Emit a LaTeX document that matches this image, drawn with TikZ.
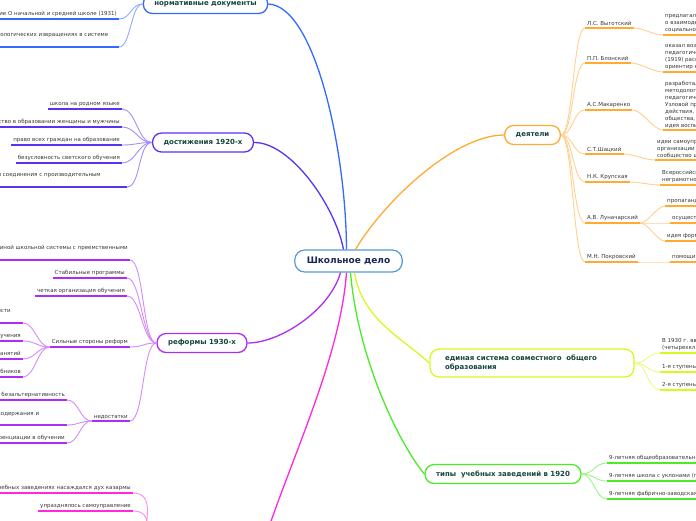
\documentclass[tikz,border=0pt]{standalone}
\usepackage{fontspec}
\setmainfont{DejaVu Sans}
\usepackage{xcolor}
\definecolor{hubblue}{RGB}{85,155,215}
\definecolor{hubink}{RGB}{25,40,85}
\definecolor{normblue}{RGB}{50,105,255}
\definecolor{achviolet}{RGB}{90,50,245}
\definecolor{refpurple}{RGB}{175,45,240}
\definecolor{barmagenta}{RGB}{255,40,220}
\definecolor{figorange}{RGB}{255,170,50}
\definecolor{unilime}{RGB}{215,250,30}
\definecolor{typgreen}{RGB}{75,235,40}
\definecolor{topicink}{RGB}{20,70,60}
\definecolor{leafink}{RGB}{55,55,55}
\usepackage{tikz}
\usetikzlibrary{positioning,calc}
\newcommand\leaffont{\fontsize{5.5}{7}\selectfont}

\begin{document}
\begin{tikzpicture}[x=1pt,y=-1pt,
  hub/.style={draw=hubblue,line width=1.2pt,fill=white,rounded corners=10pt,
    text=hubink,font=\fontsize{9}{11}\selectfont\bfseries,
    inner xsep=12pt,minimum height=22pt},
  topic/.style={draw=#1,line width=1.3pt,fill=white,rounded corners=9pt,
    text=topicink,font=\fontsize{7}{9}\selectfont\bfseries,
    inner xsep=11pt,minimum height=19pt},
  uline/.style={draw=#1,line width=2pt},
  leafL/.style={font=\leaffont,text=leafink,align=left,anchor=south east,
    inner xsep=2pt,inner ysep=2pt,
    append after command={(\tikzlastnode.south west) edge[uline=#1] (\tikzlastnode.south east)}},
  leafR/.style={leafL=#1,anchor=south west},
  trunk/.style={draw=#1,line width=1.3pt},
  link/.style={draw=#1!55,line width=0.9pt},
  sweep/.style={to path={.. controls +(#1,0) and +({-(#1)},0) .. (\tikztotarget)}},
]
\useasboundingbox (0,0) rectangle (696,520);

% центр
\node[hub] (hub) at (348.5,261) {Школьное дело};

% нормативные документы
\node[topic=normblue] (norm) at (205.5,4) {нормативные документы};
\node[leafL=normblue] (n1) at (119,19) {Постановление О начальной и средней школе (1931)};
\node[leafL=normblue,text width=180pt] (n2) at (119,47) {Постановление О педологических извращениях в системе\\Наркомпросов (1936)};

% достижения 1920-х
\node[topic=achviolet] (ach) at (203,142.5) {достижения 1920-х};
\node[leafL=achviolet] (a1) at (122,109) {школа на родном языке};
\node[leafL=achviolet] (a2) at (122,127) {равенство в образовании женщины и мужчины};
\node[leafL=achviolet] (a3) at (122,145) {право всех граждан на образование};
\node[leafL=achviolet] (a4) at (122,163) {безусловность светского обучения};
\node[leafL=achviolet,text width=190pt] (a5) at (127,187) {Трудовая школа: идея соединения с производительным\\трудом};

% реформы 1930-х
\node[topic=refpurple] (ref) at (202,343) {реформы 1930-х};
\node[leafL=refpurple] (r1) at (130,260) {Создание единой школьной системы с преемственными\\ступенями};
\node[leafL=refpurple] (r2) at (127,278) {Стабильные программы};
\node[leafL=refpurple] (r3) at (127,296) {четкая организация обучения};
\node[leafL=refpurple] (rs) at (130,347) {Сильные стороны реформ};
\node[leafL=refpurple,text width=95pt] (rs1) at (23,323) {повышение ответственности\\учителя};
\node[leafL=refpurple] (rs2) at (23,341) {предметная система обучения};
\node[leafL=refpurple] (rs3) at (23,359) {классно-урочная форма занятий};
\node[leafL=refpurple] (rs4) at (23,377) {выпуск стабильных учебников};
\node[leafL=refpurple] (rn) at (130,421) {недостатки};
\node[leafL=refpurple] (rn1) at (67,400) {безальтернативность};
\node[leafL=refpurple,text width=110pt] (rn2) at (67,425) {единообразие содержания и\\методики};
\node[leafL=refpurple] (rn3) at (67,443) {отсутствие дифференциации в обучении};

% ветка ниже края
\coordinate (barin) at (262,548);
\coordinate (barout) at (150,600);
\node[leafL=barmagenta] (b1) at (133,493) {в учебных заведениях насаждался дух казармы};
\node[leafL=barmagenta] (b2) at (133,511) {упразднялось самоуправление};

% деятели
\node[topic=figorange] (fig) at (532.5,135) {деятели};
\node[leafR=figorange] (f1) at (585,28) {Л.С. Выготский};
\node[leafR=figorange] (f2) at (585,63) {П.П. Блонский};
\node[leafR=figorange] (f3) at (585,110) {А.С.Макаренко};
\node[leafR=figorange] (f4) at (585,154) {С.Т.Шацкий};
\node[leafR=figorange] (f5) at (585,182) {Н.К. Крупская};
\node[leafR=figorange] (f6) at (585,223) {А.В. Луначарский};
\node[leafR=figorange] (f7) at (585,262) {М.Н. Покровский};
\node[leafR=figorange] (g1) at (663,35) {предлагал теорию\\о взаимодействии\\социальной среды};
\node[leafR=figorange] (g2) at (663,72) {оказал воздействие на\\педагогическую мысль\\(1919) рассматривал школу\\ориентир на труд};
\node[leafR=figorange] (g3) at (663,130) {разработал теорию и\\методологию воспитания\\педагогической системы\\Узловой проблемой\\действия, коллектива\\общества, личности\\идея воспитания в коллективе};
\node[leafR=figorange] (g4) at (655,160) {идеи самоуправления,\\организации детского труда\\сообщество школы};
\node[leafR=figorange] (g5) at (660,185) {Всероссийская кампания\\неграмотности};
\node[leafR=figorange] (g6a) at (665,206) {пропаганда новой школы};
\node[leafR=figorange] (g6b) at (670,223) {осуществление реформ};
\node[leafR=figorange] (g6c) at (665,241) {идея формирования личности};
\node[leafR=figorange] (g7) at (670,262) {помощи в создании программ};

% единая система
\node[topic=unilime,text width=174pt,align=left,inner xsep=15pt,minimum height=28pt] (uni) at (532,363) {единая система совместного\ \ общего\\образования};
\node[leafR=unilime] (u1) at (660,353) {В 1930 г. введено всеобщее\\(четырехклассное) обучение};
\node[leafR=unilime] (u2) at (660,372) {1-я ступень (5 лет)};
\node[leafR=unilime] (u3) at (660,390) {2-я ступень (4 года)};

% типы учебных заведений
\node[topic=typgreen] (typ) at (503,474) {типы\ \ учебных заведений в 1920};
\node[leafR=typgreen] (t1) at (607,463) {9-летняя общеобразовательная школа};
\node[leafR=typgreen] (t2) at (607,481) {9-летняя школа с уклонами (профессиональными)};
\node[leafR=typgreen] (t3) at (607,499) {9-летняя фабрично-заводская школа};

% стволы от центра
\draw[trunk=normblue] ([xshift=-2pt]hub.north) .. controls (346,150) and (315,6) .. (norm.east);
\draw[trunk=achviolet] ([xshift=-5pt]hub.north) .. controls (335,205) and (290,142) .. (ach.east);
\draw[trunk=figorange] ([xshift=7pt]hub.north) .. controls (385,200) and (455,135) .. (fig.west);
\draw[trunk=refpurple] ([xshift=-8pt]hub.south) .. controls (330,310) and (280,343) .. (ref.east);
\draw[trunk=barmagenta] ([xshift=-2pt]hub.south) .. controls (340,360) and (290,460) .. (barin);
\draw[trunk=typgreen] ([xshift=2pt]hub.south) .. controls (358,360) and (400,445) .. (typ.west);
\draw[trunk=unilime] ([xshift=6pt]hub.south) .. controls (362,320) and (405,340) .. (uni.west);

% связи слева
\draw[link=normblue,sweep=-12] (norm.west) to (n1.south east);
\draw[link=normblue,sweep=-12] (norm.west) to (n2.south east);
\foreach \l in {a1,a2,a3,a4,a5}
  \draw[link=achviolet,sweep=-14] (ach.west) to (\l.south east);
\foreach \l in {r1,r2,r3,rs,rn}
  \draw[link=refpurple,sweep=-14] (ref.west) to (\l.south east);
\foreach \l in {rs1,rs2,rs3,rs4}
  \draw[link=refpurple,sweep=-12] (rs.south west) to (\l.south east);
\foreach \l in {rn1,rn2,rn3}
  \draw[link=refpurple,sweep=-12] (rn.south west) to (\l.south east);
\foreach \l in {b1,b2}
  \draw[link=barmagenta,sweep=-42] (barout) to (\l.south east);

% связи справа
\foreach \l in {f1,f2,f3,f4,f5,f6,f7}
  \draw[link=figorange,sweep=12] (fig.east) to (\l.south west);
\draw[link=figorange,sweep=10] (f1.south east) to (g1.south west);
\draw[link=figorange,sweep=10] (f2.south east) to (g2.south west);
\draw[link=figorange,sweep=10] (f3.south east) to (g3.south west);
\draw[link=figorange,sweep=10] (f4.south east) to (g4.south west);
\draw[link=figorange,sweep=10] (f5.south east) to (g5.south west);
\foreach \l in {g6a,g6b,g6c}
  \draw[link=figorange,sweep=8] (f6.south east) to (\l.south west);
\draw[link=figorange,sweep=10] (f7.south east) to (g7.south west);
\foreach \l in {u1,u2,u3}
  \draw[link=unilime,sweep=12] (uni.east) to (\l.south west);
\foreach \l in {t1,t2,t3}
  \draw[link=typgreen,sweep=12] (typ.east) to (\l.south west);
\end{tikzpicture}
\end{document}
